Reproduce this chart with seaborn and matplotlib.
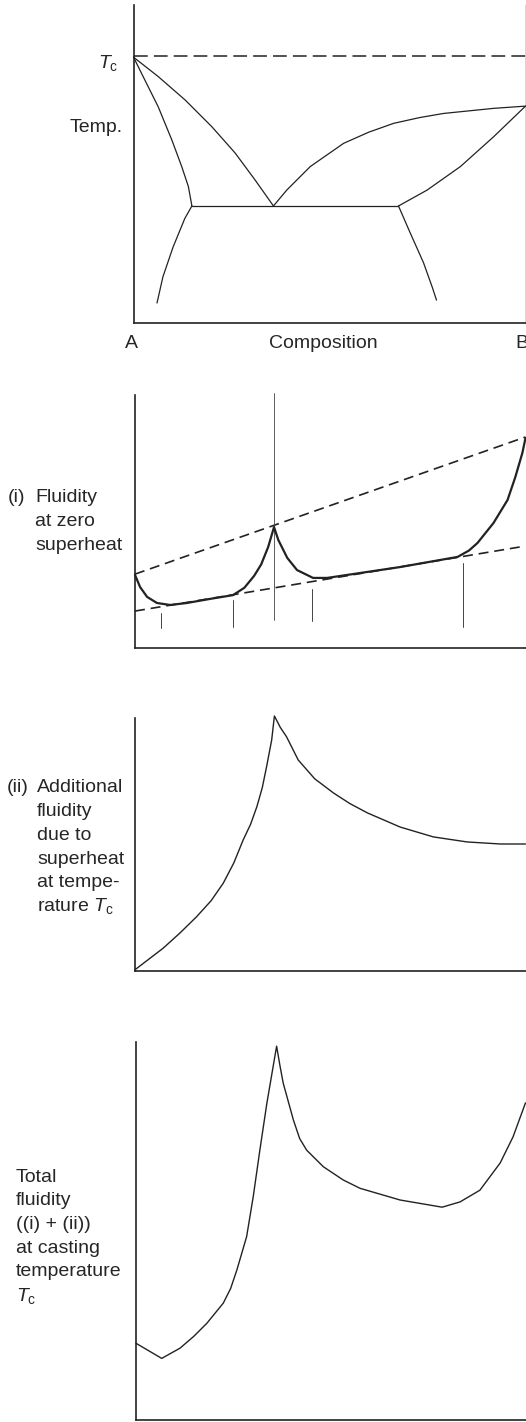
import numpy as np
import pandas as pd
import matplotlib
matplotlib.use("Agg")
import matplotlib.pyplot as plt
import seaborn as sns

# ---------------- data (composition 0=A .. 1=B, values 0..100) ----------------
# Panel 1: phase diagram
tc_temp = 84.0
liq_left_x = [0.0, 0.063, 0.132, 0.2, 0.259, 0.31, 0.357]
liq_left_y = [83.6, 77.5, 70.1, 61.7, 53.5, 45.0, 36.8]
sol_left_x = [0.0, 0.029, 0.063, 0.098, 0.123, 0.14, 0.149]
sol_left_y = [83.6, 76.4, 68.0, 57.5, 49.2, 42.9, 36.8]
solv_left_x = [0.149, 0.131, 0.101, 0.075, 0.06]
solv_left_y = [36.8, 32.9, 23.9, 14.5, 6.3]
liq_right_x = [0.357, 0.391, 0.451, 0.536, 0.6, 0.664, 0.73, 0.791, 0.919, 1.0]
liq_right_y = [36.8, 41.8, 49.2, 56.5, 60.0, 62.8, 64.6, 65.9, 67.5, 68.2]
sol_right_x = [0.676, 0.749, 0.834, 0.919, 1.0]
sol_right_y = [36.8, 41.8, 49.2, 58.6, 68.2]
solv_right_x = [0.676, 0.706, 0.74, 0.762, 0.773]
solv_right_y = [36.8, 28.3, 18.9, 11.3, 7.2]
eut_x = [0.149, 0.676]
eut_y = [36.8, 36.8]

# Panel 2: fluidity at zero superheat
f0_x = [0.0, 0.013, 0.031, 0.056, 0.09, 0.133, 0.192, 0.251, 0.28, 0.305, 0.323,
        0.341, 0.356, 0.367, 0.39, 0.415, 0.456, 0.492, 0.679, 0.826, 0.855, 0.877,
        0.918, 0.954, 0.974, 0.992, 1.0]
f0_y = [28.9, 24.1, 20.2, 17.8, 17.0, 17.8, 19.4, 20.9, 23.8, 28.5, 33.0,
        39.9, 47.8, 42.7, 35.6, 30.8, 27.7, 27.7, 32.0, 36.0, 38.5, 41.5,
        49.4, 58.5, 67.6, 77.1, 83.0]
upper_dash_x = [0.0, 1.0]
upper_dash_y = [29.2, 83.4]
lower_dash_x = [0.0, 1.0]
lower_dash_y = [14.6, 40.3]
marker_x = [0.067, 0.251, 0.454, 0.841]
marker_top = [13.8, 19.0, 23.3, 33.6]
marker_bot = [7.9, 8.3, 10.7, 8.3]
eutectic_x = 0.356

# Panel 3: additional fluidity due to superheat
f1_x = [0.0, 0.072, 0.115, 0.158, 0.195, 0.226, 0.253, 0.277, 0.296, 0.312, 0.326,
        0.337, 0.35, 0.357, 0.372, 0.388, 0.418, 0.46, 0.508, 0.55, 0.595, 0.679,
        0.764, 0.851, 0.936, 1.0]
f1_y = [0.5, 9.0, 15.0, 21.5, 27.8, 34.7, 42.7, 51.8, 58.0, 64.9, 72.5,
        80.8, 91.3, 100.8, 96.3, 92.6, 83.4, 76.0, 70.4, 66.2, 62.5, 56.9,
        53.0, 51.0, 50.2, 50.2]

# Panel 4: total fluidity
f2_x = [0.0, 0.066, 0.113, 0.148, 0.182, 0.224, 0.243, 0.259, 0.284, 0.301, 0.318,
        0.336, 0.361, 0.37, 0.378, 0.404, 0.42, 0.438, 0.481, 0.532, 0.575, 0.678,
        0.786, 0.832, 0.883, 0.935, 0.968, 1.0]
f2_y = [20.3, 16.3, 19.0, 22.1, 25.6, 30.9, 34.8, 39.7, 48.5, 59.1, 71.4,
        83.8, 98.9, 93.5, 89.1, 79.4, 74.5, 71.4, 67.0, 63.5, 61.3, 58.2,
        56.3, 57.7, 60.8, 68.0, 74.9, 83.9]

label2 = ["Fluidity", "at zero", "superheat"]
label3 = ["Additional", "fluidity", "due to", "superheat", "at tempe-", r"rature $T_\mathrm{c}$"]
label4 = ["Total", "fluidity", "((i) + (ii))", "at casting", "temperature", r"$T_\mathrm{c}$"]

# ---------------- styling ----------------
sns.set_theme(style="white")
plt.rcParams["font.family"] = ["Liberation Sans", "DejaVu Sans"]
plt.rcParams["mathtext.fontset"] = "custom"
plt.rcParams["mathtext.rm"] = "Liberation Sans"
plt.rcParams["mathtext.it"] = "Liberation Sans:italic"

W, H = 526, 1422
fig = plt.figure(figsize=(W / 100, H / 100), dpi=100)
fig.patch.set_facecolor("white")


def axes_px(left, top, right, bottom):
    return fig.add_axes([left / W, 1 - bottom / H, (right - left) / W, (bottom - top) / H])


def ftext(x, y, s, **kw):
    fig.text(x / W, 1 - y / H, s, **kw)


def lines_text(x, y0, lines, step=23.7, **kw):
    for i, s in enumerate(lines):
        ftext(x, y0 + i * step, s, ha="left", va="center", **kw)


def line(ax, xs, ys, lw=1.0, color="#222222", dashes=None, clip=False):
    df = pd.DataFrame({"x": xs, "y": ys})
    sns.lineplot(data=df, x="x", y="y", ax=ax, sort=False, estimator=None,
                 color=color, linewidth=lw)
    ln = ax.lines[-1]
    if dashes is not None:
        ln.set_dashes(dashes)
    ln.set_clip_on(clip)
    ln.set_solid_joinstyle("round")
    ln.set_solid_capstyle("round")
    return ln


def style_axes(ax, right=False, right_color="#333333", right_lw=1.0):
    ax.set_xlim(0, 1)
    ax.set_ylim(0, 100)
    ax.set_xticks([])
    ax.set_yticks([])
    ax.set_xlabel("")
    ax.set_ylabel("")
    ax.set_facecolor("none")
    for s in ["top", "right"]:
        ax.spines[s].set_visible(False)
    for s in ["left", "bottom"]:
        ax.spines[s].set_color("#222222")
        ax.spines[s].set_linewidth(1.2)
    if right:
        ax.spines["right"].set_visible(True)
        ax.spines["right"].set_color(right_color)
        ax.spines["right"].set_linewidth(right_lw)


FS = 14

# ---------------- panel 1 ----------------
ax1 = axes_px(133.5, 5, 525.5, 323)
line(ax1, [0, 1], [tc_temp, tc_temp], lw=1.1, dashes=(9, 4))
for xs, ys in [(liq_left_x, liq_left_y), (sol_left_x, sol_left_y),
               (solv_left_x, solv_left_y), (liq_right_x, liq_right_y),
               (sol_right_x, sol_right_y), (solv_right_x, solv_right_y),
               (eut_x, eut_y)]:
    line(ax1, xs, ys, lw=0.9)
style_axes(ax1, right=True)
ftext(118, 63, r"$T_\mathrm{c}$", ha="right", va="center", fontsize=FS)
ftext(70, 127, "Temp.", ha="left", va="center", fontsize=FS)
ftext(131, 344, "A", ha="center", va="center", fontsize=FS)
ftext(323, 344, "Composition", ha="center", va="center", fontsize=FS)
ftext(515, 344, "B", ha="left", va="center", fontsize=FS)

# ---------------- panel 2 ----------------
ax2 = axes_px(135, 395, 525.5, 648)
line(ax2, upper_dash_x, upper_dash_y, lw=1.2, dashes=(6, 3.5))
line(ax2, lower_dash_x, lower_dash_y, lw=1.2, dashes=(6, 3.5))
line(ax2, [eutectic_x, eutectic_x], [100.8, 11.1], lw=0.6, color="#444444")
for mx, mt, mb in zip(marker_x, marker_top, marker_bot):
    line(ax2, [mx, mx], [mt, mb], lw=0.7, color="#444444")
line(ax2, f0_x, f0_y, lw=1.6)
style_axes(ax2, right=True, right_color="#999999", right_lw=0.7)
ftext(8, 498, "(i)", ha="left", va="center", fontsize=FS)
lines_text(35, 498, label2, fontsize=FS)

# ---------------- panel 3 ----------------
ax3 = axes_px(135, 718, 525.5, 971)
line(ax3, f1_x, f1_y, lw=1.0)
style_axes(ax3)
ftext(7, 788, "(ii)", ha="left", va="center", fontsize=FS)
lines_text(37, 788, label3, fontsize=FS)

# ---------------- panel 4 ----------------
ax4 = axes_px(136, 1042, 525.5, 1420)
line(ax4, f2_x, f2_y, lw=1.0)
style_axes(ax4)
lines_text(16, 1177, label4, fontsize=FS)

fig.savefig("out.png", dpi=100, facecolor="white")
